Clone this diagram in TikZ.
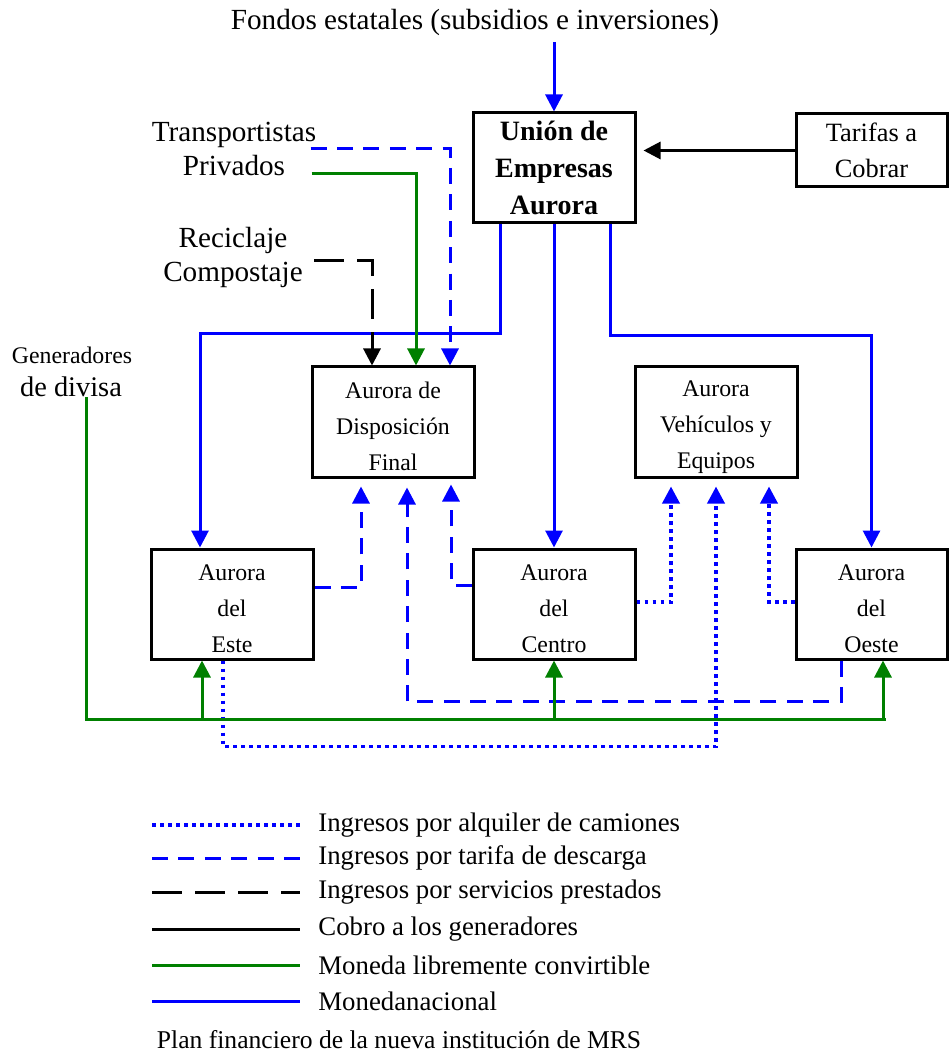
\documentclass[tikz,border=0pt]{standalone}
\usepackage{fontspec}
\setmainfont{Liberation Serif}
\usepackage{tikz}
\usetikzlibrary{arrows.meta,positioning}
\usepackage{xcolor}
\definecolor{azul}{RGB}{0,0,255}
\definecolor{verde}{RGB}{0,128,0}
\tikzset{
  >={Triangle[length=8.5pt,width=8.5pt]},
  every node/.style={font=\fontsize{14.6}{17}\selectfont},
  cajabase/.style={draw,line width=1.5pt,minimum width=81pt,minimum height=55pt,inner sep=0pt,align=center},
  caja/.style={cajabase,text height=49pt,font=\fontsize{11.9}{18}\selectfont},
  cajaunion/.style={cajabase,font=\fontsize{14}{18.5}\selectfont\bfseries},
  cajatarifa/.style={cajabase,minimum width=75.5pt,minimum height=36.5pt,font=\fontsize{13.2}{18}\selectfont},
  etiqueta/.style={align=center,inner sep=0pt},
  nacional/.style={->,draw=azul,line width=1.5pt},
  convertible/.style={->,draw=verde,line width=1.5pt},
  cobro/.style={->,draw=black,line width=1.5pt},
  servicios/.style={->,draw=black,line width=1.5pt,dash pattern=on 15pt off 6.5pt},
  descarga/.style={->,draw=azul,line width=1.5pt,dash pattern=on 8pt off 5.2pt},
  alquiler/.style={->,draw=azul,line width=1.8pt,dash pattern=on 1.8pt off 2.2pt},
  leyenda/.style={anchor=west,inner sep=0pt,font=\fontsize{13.4}{16}\selectfont},
}
\begin{document}
\begin{tikzpicture}[x=0.5pt,y=-0.5pt]
  \useasboundingbox (0,0) rectangle (949,1052);

  \node (fondos) at (475,22) {Fondos estatales (subsidios e inversiones)};
  \node[cajaunion] (union) at (554,168) {Unión de\\Empresas\\Aurora};
  \node[cajatarifa] (tarifas) at (871.5,150.5) {Tarifas a\\Cobrar};
  \node[etiqueta] (transp) at (234,149) {Transportistas\\Privados};
  \node[etiqueta] (recic) at (233,257.5) {Reciclaje\\Compostaje};
  \node[etiqueta,font=\fontsize{11.9}{14}\selectfont] (gen1) at (72,355) {Generadores};
  \node[etiqueta,font=\fontsize{14.2}{17}\selectfont] (gen2) at (71,387) {de divisa};

  \node[caja] (dispo) at (393,422) {Aurora de\\Disposición\\Final};
  \node[caja] (vehic) at (716,422) {Aurora\\Vehículos y\\Equipos};
  \node[caja] (este) at (232,604) {Aurora\\del\\Este};
  \node[caja] (centro) at (554,604) {Aurora\\del\\Centro};
  \node[caja,minimum width=75.5pt] (oeste) at (871.5,604) {Aurora\\del\\Oeste};

  \coordinate (busend) at (886,719);

  \draw[nacional] (union.north |- fondos.south) -- (union.north);
  \draw[cobro,shorten >=3.5pt] (tarifas.west) -- (tarifas.west -| union.east);
  \draw[nacional] ([xshift=-27pt]union.south) -- ++(0,109) -| ([xshift=-16pt]este.north);
  \draw[nacional] (union.south) -- (centro.north);
  \draw[nacional] ([xshift=28pt]union.south) -- ++(0,111) -| (oeste.north);

  \draw[descarga] ([xshift=-3pt]transp.east) -| ([xshift=28.5pt]dispo.north);
  \draw[convertible] ([xshift=-2.5pt,yshift=-12.5pt]transp.east) -| ([xshift=11.5pt]dispo.north);
  \draw[servicios] ([xshift=5.5pt,yshift=-1.75pt]recic.east) -| ([xshift=-10.5pt]dispo.north);

  \draw[descarga,shorten >=4pt] ([yshift=8.5pt]este.east) -| ([xshift=-16pt]dispo.south);
  \draw[descarga,shorten >=3pt] ([yshift=9.5pt]centro.west) -| ([xshift=29pt]dispo.south);
  \draw[descarga,shorten >=4.5pt] ([xshift=-15.25pt]oeste.south) -- ++(0,41) -| ([xshift=7pt]dispo.south);

  \draw[alquiler,shorten >=4pt] ([yshift=1pt]centro.east) -| ([xshift=-22.5pt]vehic.south);
  \draw[alquiler,shorten >=4pt] ([yshift=1pt]oeste.west) -| ([xshift=26.5pt]vehic.south);
  \draw[alquiler,shorten >=4pt] ([xshift=-4.5pt]este.south) -- ++(0,86) -| (vehic.south);

  \draw[convertible,-] ([xshift=7.5pt]gen2.south) |- (busend);
  \draw[convertible,<-] ([xshift=-15pt]este.south) -- ++(0,60);
  \draw[convertible,<-] (centro.south) -- ++(0,60);
  \draw[convertible,<-] ([xshift=5.75pt]oeste.south) -- ++(0,60);

  \node[leyenda] (ley1) at (318,825) {Ingresos por alquiler de camiones};
  \node[leyenda] (ley2) at (318,858) {Ingresos por tarifa de descarga};
  \node[leyenda] (ley3) at (318,892) {Ingresos por servicios prestados};
  \node[leyenda] (ley4) at (318,929) {Cobro a los generadores};
  \node[leyenda] (ley5) at (318,965) {Moneda libremente convirtible};
  \node[leyenda] (ley6) at (318,1001) {Monedanacional};
  \draw[alquiler,-] ([xshift=-83pt]ley1.west) -- ++(148,0);
  \draw[descarga,-] ([xshift=-83pt]ley2.west) -- ++(148,0);
  \draw[servicios,-] ([xshift=-83pt]ley3.west) -- ++(148,0);
  \draw[cobro,-] ([xshift=-83pt]ley4.west) -- ++(148,0);
  \draw[convertible,-] ([xshift=-83pt]ley5.west) -- ++(148,0);
  \draw[nacional,-] ([xshift=-83pt]ley6.west) -- ++(148,0);
  \node[font=\fontsize{12.8}{15}\selectfont] (titulo) at (399,1040) {Plan financiero de la nueva institución de MRS};
\end{tikzpicture}
\end{document}
